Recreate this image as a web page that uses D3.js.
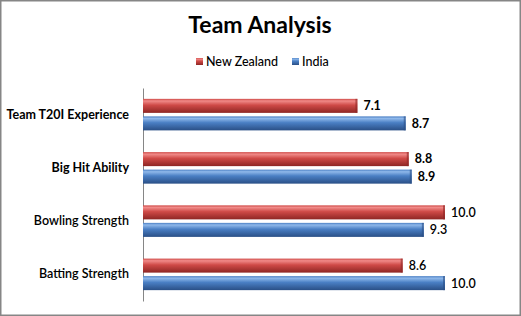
<!DOCTYPE html>
<html>
<head>
<meta charset="utf-8">
<script src="https://cdn.jsdelivr.net/npm/d3@7"></script>
<style>
  html, body { margin: 0; padding: 0; background: #fff; }
  svg text { font-family: Lato, "Open Sans", sans-serif; }
</style>
</head>
<body>
<svg id="chart" width="521" height="316"></svg>
<script>
// chart data
const categories = ['Team T20I Experience', 'Big Hit Ability', 'Bowling Strength', 'Batting Strength']
const series = ['New Zealand', 'India']
const newZealand = [7.1, 8.8, 10.0, 8.6]
const india = [8.7, 8.9, 9.3, 10.0]
const seriesValues = [newZealand, india]
// the source image renders the upper two rows in a heavier weight
const boldRows = ['Team T20I Experience', 'Big Hit Ability']

const width = 521
const height = 316
const colors = {
  'New Zealand': {light: '#f08a88', base: '#cf4a47', dark: '#8e2624'},
  'India': {light: '#8fb8ea', base: '#4a7fc4', dark: '#2a4f86'},
}

const svg = d3.select('#chart')

// outer frame
svg.append('rect')
  .attr('x', 0.75).attr('y', 0.75)
  .attr('width', width - 1.5).attr('height', height - 1.5)
  .attr('fill', '#fff').attr('stroke', '#868686').attr('stroke-width', 1.5)

// glossy gradients for the bars
const defs = svg.append('defs')
series.forEach((s, i) => {
  const c = colors[s]
  const g = defs.append('linearGradient')
    .attr('id', `grad-${i}`)
    .attr('x1', 0).attr('y1', 0).attr('x2', 0).attr('y2', 1)
  g.append('stop').attr('offset', '0%').attr('stop-color', c.base)
  g.append('stop').attr('offset', '15%').attr('stop-color', c.light)
  g.append('stop').attr('offset', '45%').attr('stop-color', c.base)
  g.append('stop').attr('offset', '100%').attr('stop-color', c.dark)
})

const rows = categories.map((cat, i) => ({
  cat,
  values: series.map((s, j) => ({series: s, idx: j, cat, value: seriesValues[j][i]})),
}))

const x = d3.scaleLinear().domain([0, 10]).range([143, 445])
const y0 = d3.scaleBand().domain(categories).range([88, 301])
const y1 = d3.scaleBand().domain(series).range([0, y0.bandwidth()])
  .paddingInner(0.2).paddingOuter(0.62)

const weight = cat => boldRows.includes(cat) ? 'bold' : 600

// title
svg.append('text')
  .attr('x', 260).attr('y', 33)
  .attr('text-anchor', 'middle')
  .attr('font-size', 23).attr('font-weight', 'bold')
  .text('Team Analysis')

// legend
const legendPos = [196, 292]
const legend = svg.selectAll('.legend')
  .data(series)
  .join('g')
  .attr('class', 'legend')
  .attr('transform', (d, i) => `translate(${legendPos[i]},58)`)
legend.append('rect')
  .attr('width', 7).attr('height', 7)
  .attr('fill', (d, i) => `url(#grad-${i})`)
legend.append('text')
  .attr('x', 10).attr('y', 7.5)
  .attr('font-size', 12.5)
  .attr('font-weight', 500)
  .text(d => d)

// category axis
const yAxis = svg.append('g')
  .attr('transform', `translate(${x(0)},0)`)
  .call(d3.axisLeft(y0).tickSize(0).tickPadding(14))
yAxis.select('.domain').attr('stroke', '#868686')
yAxis.selectAll('text')
  .attr('font-size', 12.5)
  .attr('font-weight', d => weight(d))
  .attr('fill', '#000')
  .style('font-family', 'Lato, "Open Sans", sans-serif')

// bars
const groups = svg.selectAll('.row')
  .data(rows)
  .join('g')
  .attr('class', 'row')
  .attr('transform', d => `translate(0,${y0(d.cat)})`)

groups.selectAll('rect.bar')
  .data(d => d.values)
  .join('rect')
  .attr('class', 'bar')
  .attr('x', x(0))
  .attr('y', d => y1(d.series))
  .attr('width', d => x(d.value) - x(0))
  .attr('height', y1.bandwidth())
  .attr('fill', d => `url(#grad-${d.idx})`)

// darker end cap
groups.selectAll('rect.cap')
  .data(d => d.values)
  .join('rect')
  .attr('class', 'cap')
  .attr('x', d => x(d.value) - 2)
  .attr('y', d => y1(d.series))
  .attr('width', 2)
  .attr('height', y1.bandwidth())
  .attr('fill', d => colors[d.series].dark)
  .attr('opacity', 0.6)

// value labels
groups.selectAll('text.value')
  .data(d => d.values)
  .join('text')
  .attr('class', 'value')
  .attr('x', d => x(d.value) + 6)
  .attr('y', d => y1(d.series) + y1.bandwidth() / 2)
  .attr('dy', '0.35em')
  .attr('font-size', 12.5)
  .attr('font-weight', d => weight(d.cat))
  .text(d => d3.format('.1f')(d.value))
</script>
</body>
</html>
